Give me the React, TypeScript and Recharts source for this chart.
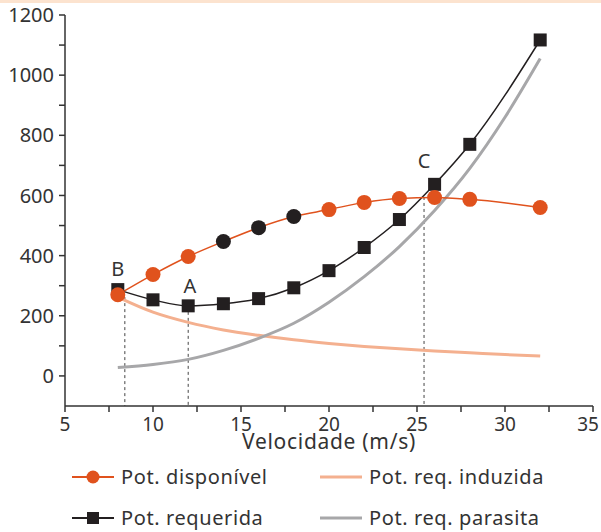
import React from 'react';
import {
  LineChart, Line, XAxis, YAxis, ReferenceLine, ReferenceDot,
} from 'recharts';

// velocidade (m/s)
const speeds = [8, 10, 12, 14, 16, 18, 20, 22, 24, 26, 28, 30, 32];
// potência disponível (null onde não há ponto)
const potDisponivel = [270, 337, 397, 447, 493, 530, 553, 577, 590, 593, 587, null, 560];
// potência requerida
const potRequerida = [287, 253, 233, 240, 257, 293, 350, 427, 520, 637, 770, null, 1117];
// potência requerida induzida
const potInduzida = [262, 212, 178, 153, 135, 120, 108, 98, 90, 83, 77, 71, 66];
// potência requerida parasita
const potParasita = [28, 38, 55, 85, 125, 175, 245, 330, 430, 550, 690, 860, 1055];
// pontos destacados em preto na curva disponível
const blackDots = [14, 16, 18];

// pontos notáveis
const markLabels = ['B', 'A', 'C'];
const markX = [8.4, 12, 25.4];
const markY = [262, 233, 595];
const labelY = [355, 300, 715];
const labelX = [8.0, 12.1, 25.4];

const xTicks = [5, 7.5, 10, 12.5, 15, 17.5, 20, 22.5, 25, 27.5, 30, 32.5, 35];
const yTicks = [0, 100, 200, 300, 400, 500, 600, 700, 800, 900, 1000, 1100, 1200];

const ORANGE = '#e0521d';
const BLACK = '#231f20';
const LIGHT = '#f4b08f';
const GRAY = '#a7a7a9';
const FONT = '"Noto Sans", sans-serif';

const data = speeds.map((v, i) => ({
  v,
  disp: potDisponivel[i],
  req: potRequerida[i],
  ind: potInduzida[i],
  par: potParasita[i],
}));

const CircleDot = (props: any) => {
  const { cx, cy, payload } = props;
  if (cy == null || payload.disp == null) return null;
  const fill = blackDots.includes(payload.v) ? BLACK : ORANGE;
  return <circle key={`c-${payload.v}`} cx={cx} cy={cy} r={7.5} fill={fill} />;
};

const SquareDot = (props: any) => {
  const { cx, cy, payload } = props;
  if (cy == null || payload.req == null) return null;
  return <rect key={`s-${payload.v}`} x={cx - 6.5} y={cy - 6.5} width={13} height={13} fill={BLACK} />;
};

// rótulos do eixo x (só múltiplos de 5; o último puxado para dentro)
const XTick = (props: any) => {
  const { x, y, payload } = props;
  const v = payload.value;
  if (v % 5 !== 0) return null;
  const shift = v === 35 ? -5 : 0;
  return (
    <text x={x + shift} y={y} dy="0.85em" textAnchor="middle" fill="#333" fontSize={19} fontFamily={FONT}>
      {v}
    </text>
  );
};

const legendItems = [
  { name: 'Pot. disponível', color: ORANGE, marker: 'circle', width: 2 },
  { name: 'Pot. req. induzida', color: LIGHT, marker: 'none', width: 3 },
  { name: 'Pot. requerida', color: BLACK, marker: 'square', width: 2 },
  { name: 'Pot. req. parasita', color: GRAY, marker: 'none', width: 3 },
];

const LegendIcon = ({ item }: { item: any }) => (
  <svg width={44} height={16} style={{ marginRight: 6 }}>
    <line x1={1} y1={8} x2={43} y2={8} stroke={item.color} strokeWidth={item.width} />
    {item.marker === 'circle' && <circle cx={22} cy={8} r={6.5} fill={item.color} />}
    {item.marker === 'square' && <rect x={16} y={2} width={12} height={12} fill={item.color} />}
  </svg>
);

export default function App() {
  return (
    <div style={{ position: 'absolute', left: 0, top: 0, width: 601, height: 532, background: '#fff', fontFamily: FONT }}>
      <div style={{ position: 'absolute', left: 0, top: 0, width: 601, height: 3, background: '#fce3cf' }} />
      <LineChart
        width={601}
        height={532}
        data={data}
        margin={{ top: 15, right: 8, left: 5, bottom: 101 }}
      >
        <XAxis
          dataKey="v"
          type="number"
          domain={[5, 35]}
          ticks={xTicks}
          interval={0}
          tick={<XTick />}
          tickSize={6}
          tickMargin={3}
          height={25}
          stroke="#333"
          strokeWidth={1.5}
          label={{ value: 'Velocidade (m/s)', position: 'bottom', offset: 3, fill: '#333', fontSize: 21, fontFamily: FONT, letterSpacing: 0.7 }}
        />
        <YAxis
          type="number"
          domain={[-100, 1200]}
          ticks={yTicks}
          interval={0}
          tickFormatter={(t: number) => (t % 200 === 0 ? String(t) : '')}
          tickSize={6}
          tickMargin={5}
          width={60}
          stroke="#333"
          strokeWidth={1.5}
          tick={{ fill: '#333', fontSize: 20, fontFamily: FONT }}
          allowDataOverflow
        />
        {markX.map((x, i) => (
          <ReferenceLine
            key={`ref-${i}`}
            segment={[{ x, y: markY[i] }, { x, y: -100 }]}
            stroke="#444"
            strokeDasharray="3 3"
            strokeWidth={1}
          />
        ))}
        <Line type="monotone" dataKey="ind" stroke={LIGHT} strokeWidth={3} dot={false} isAnimationActive={false} />
        <Line type="monotone" dataKey="par" stroke={GRAY} strokeWidth={3} dot={false} isAnimationActive={false} />
        <Line type="monotone" dataKey="req" stroke={BLACK} strokeWidth={1.5} dot={<SquareDot />} connectNulls isAnimationActive={false} />
        <Line type="monotone" dataKey="disp" stroke={ORANGE} strokeWidth={1.5} dot={<CircleDot />} connectNulls isAnimationActive={false} />
        {markLabels.map((m, i) => (
          <ReferenceDot
            key={`lbl-${m}`}
            x={labelX[i]}
            y={labelY[i]}
            r={0}
            fill="none"
            stroke="none"
            label={{ value: m, position: 'center', fill: '#333', fontSize: 20, fontFamily: FONT }}
          />
        ))}
      </LineChart>
      <div style={{ position: 'absolute', left: 71, top: 463, width: 530, display: 'grid', gridTemplateColumns: '248px 282px', rowGap: 14 }}>
        {legendItems.map((item) => (
          <div key={item.name} style={{ display: 'flex', alignItems: 'center', height: 27, fontSize: 20, letterSpacing: 0.6, color: '#333' }}>
            <LegendIcon item={item} />
            <span>{item.name}</span>
          </div>
        ))}
      </div>
    </div>
  );
}
